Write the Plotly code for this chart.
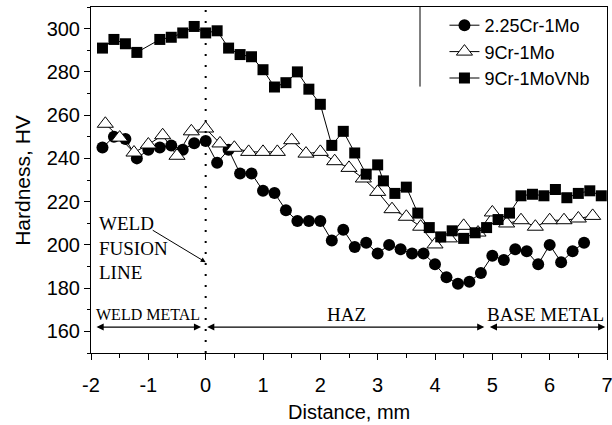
import plotly.graph_objects as go

# ---- data ----
x_cr225 = [-1.8, -1.6, -1.4, -1.2, -1.0, -0.8, -0.6, -0.4, -0.2, 0.0, 0.2, 0.4, 0.6, 0.8,
           1.0, 1.2, 1.4, 1.6, 1.8, 2.0, 2.2, 2.4, 2.6, 2.8, 3.0, 3.2, 3.4, 3.6, 3.8,
           4.0, 4.2, 4.4, 4.6, 4.8, 5.0, 5.2, 5.4, 5.6, 5.8, 6.0, 6.2, 6.4, 6.6]
y_cr225 = [245, 250, 249, 240, 244, 245, 246, 244, 247, 248, 238, 244, 233, 233,
           225, 224, 216, 211, 211, 211, 202, 207, 199, 201, 196, 200, 198, 196, 196,
           191, 185, 182, 183, 187, 195, 193, 198, 197, 191, 200, 192, 197, 201]

x_cr9 = [-1.75, -1.5, -1.25, -1.0, -0.75, -0.5, -0.25, 0.0, 0.25, 0.5, 0.75, 1.0,
         1.25, 1.5, 1.75, 2.0, 2.25, 2.5, 2.75, 3.0, 3.25, 3.5, 3.75, 4.0, 4.25, 4.5,
         4.75, 5.0, 5.25, 5.5, 5.75, 6.0, 6.25, 6.5, 6.75]
y_cr9 = [256, 249.6, 242.7, 246.4, 250.7, 241.2, 252.5, 253.8, 246.9, 244.9, 243, 243,
         243, 248.4, 242.2, 243, 238.7, 235.6, 230.7, 224.5, 216.5, 213, 208.4, 200.2, 203, 208.8,
         205.7, 215, 209.9, 211.4, 208.4, 211.4, 211.4, 212.2, 213.4]

x_cr9vnb = [-1.8, -1.6, -1.4, -1.2, -0.8, -0.6, -0.4, -0.2, 0.0, 0.2, 0.4, 0.6, 0.8,
            1.0, 1.2, 1.4, 1.6, 1.8, 2.0, 2.2, 2.4, 2.6, 2.8, 3.0, 3.1, 3.3, 3.5, 3.7,
            3.9, 4.1, 4.3, 4.5, 4.7, 4.9, 5.1, 5.3, 5.5, 5.7, 5.9, 6.1, 6.3, 6.5, 6.7, 6.9]
y_cr9vnb = [291, 295, 293, 289, 295, 296, 298, 301, 298, 299, 291, 288, 287,
            281, 273, 275, 280, 272, 265, 246, 252.5, 242.5, 232.7, 237, 229.6, 223.8, 226.7, 214.7,
            208, 203.7, 206.5, 203, 205.6, 208, 211.7, 214.7, 222.7, 223.4, 222.7, 225.6, 221.8, 223.8, 225, 222.7]

series_names = ["2.25Cr-1Mo", "9Cr-1Mo", "9Cr-1MoVNb"]
y_ticks = [160, 180, 200, 220, 240, 260, 280, 300]
x_ticks = [-2, -1, 0, 1, 2, 3, 4, 5, 6, 7]
x_ticktext = ["-2", "-1", "0", "1", "2", "3", "4", "5", "6", "7"]

SANS = "Liberation Sans, Arial, sans-serif"
SERIF = "Liberation Serif, Times New Roman, serif"

fig = go.Figure()
fig.add_trace(go.Scatter(x=x_cr225, y=y_cr225, name=series_names[0], mode="lines+markers",
                         line=dict(color="black", width=1),
                         marker=dict(symbol="circle", size=12, color="black")))
fig.add_trace(go.Scatter(x=x_cr9, y=y_cr9, name=series_names[1], mode="lines+markers",
                         line=dict(color="black", width=1),
                         marker=dict(symbol="triangle-up", size=14, color="white",
                                     line=dict(color="black", width=1))))
fig.add_trace(go.Scatter(x=x_cr9vnb, y=y_cr9vnb, name=series_names[2], mode="lines+markers",
                         line=dict(color="black", width=1),
                         marker=dict(symbol="square", size=11, color="black")))

# dotted fusion line
fig.add_shape(type="line", xref="x", yref="y", x0=0, x1=0, y0=150, y1=310,
              line=dict(color="black", width=2, dash="2px,9px"))
# legend box left edge
fig.add_shape(type="line", xref="paper", yref="paper", x0=0.6376, x1=0.6376, y0=0.77, y1=1.0,
              line=dict(color="black", width=1))

ann = []
# region arrows (double headed)
for xs, xe in [(-1.93, -0.08), (0.0, 4.86), (4.93, 6.97)]:
    ann.append(dict(x=xe, y=162, ax=xs, ay=162, xref="x", yref="y", axref="x", ayref="y",
                    text="", showarrow=True, arrowside="end+start", arrowhead=2,
                    startarrowhead=2, arrowsize=1.1, startarrowsize=1.1, arrowwidth=1.3,
                    arrowcolor="black"))
# fusion line arrow
ann.append(dict(x=0.0, y=192, ax=-0.95, ay=207.2, xref="x", yref="y", axref="x", ayref="y",
                text="", showarrow=True, arrowhead=2, arrowsize=1, arrowwidth=1,
                arrowcolor="black"))
# region labels
ann.append(dict(x=-1.01, y=167.7, xref="x", yref="y", text="WELD METAL", showarrow=False,
                font=dict(family=SERIF, size=16, color="black")))
ann.append(dict(x=2.45, y=167.7, xref="x", yref="y", text="HAZ", showarrow=False,
                font=dict(family=SERIF, size=19, color="black")))
ann.append(dict(x=5.92, y=167.7, xref="x", yref="y", text="BASE METAL", showarrow=False,
                font=dict(family=SERIF, size=19, color="black")))
ann.append(dict(x=-1.9, y=198.5, xref="x", yref="y", xanchor="left", yanchor="middle",
                text="WELD<br>FUSION<br>LINE", showarrow=False, align="left",
                font=dict(family=SERIF, size=19, color="black")))
# axis titles
ann.append(dict(x=-0.134, y=0.5, xref="paper", yref="paper", xanchor="center", yanchor="middle",
                text="Hardness, HV", textangle=-90, showarrow=False,
                font=dict(family=SANS, size=21, color="black")))
ann.append(dict(x=0.5, y=-0.1705, xref="paper", yref="paper", xanchor="center", yanchor="middle",
                text="Distance, mm", showarrow=False,
                font=dict(family=SANS, size=20, color="black")))

axis_common = dict(showline=True, linecolor="black", linewidth=1, mirror=True,
                   ticks="outside", ticklen=6, tickwidth=1, tickcolor="black",
                   showgrid=False, zeroline=False, automargin=False,
                   tickfont=dict(family=SANS, size=20, color="black"))

fig.update_layout(
    width=612, height=425,
    margin=dict(l=91, r=5, t=7, b=72, autoexpand=False),
    paper_bgcolor="white", plot_bgcolor="white",
    showlegend=True,
    legend=dict(x=0.685, y=1.0, xanchor="left", yanchor="top",
                bgcolor="rgba(0,0,0,0)", borderwidth=0,
                font=dict(family=SANS, size=18, color="black"),
                tracegroupgap=0),
    xaxis=dict(range=[-2, 7], tickvals=x_ticks, ticktext=x_ticktext, ticklabelstandoff=8,
               ticklabeloverflow="allow",
               minor=dict(dtick=0.5, tick0=-2, ticklen=3.5, ticks="outside", tickcolor="black"),
               **axis_common),
    yaxis=dict(range=[150, 310], tickvals=y_ticks,
               minor=dict(dtick=10, tick0=150, ticklen=3.5, ticks="outside", tickcolor="black"),
               **axis_common),
    annotations=ann,
)

fig.write_html("out.html")
